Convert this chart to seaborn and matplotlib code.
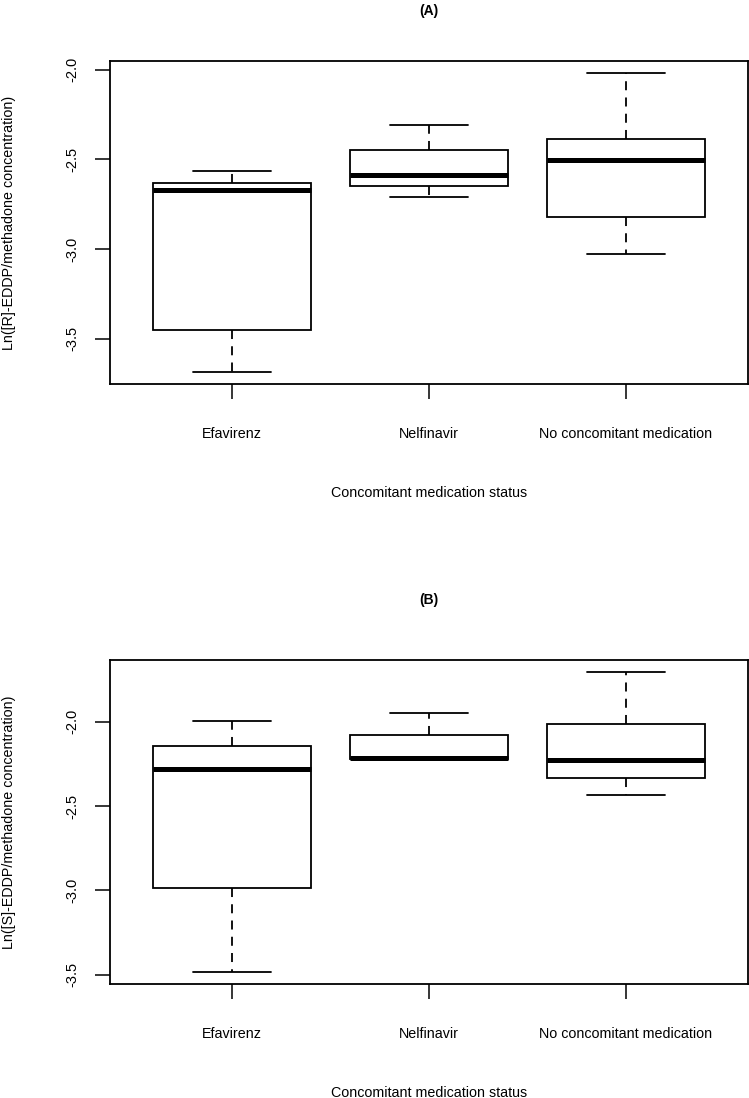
import pandas as pd
import numpy as np
import matplotlib
matplotlib.use("Agg")
import matplotlib.pyplot as plt
import seaborn as sns

# Grupos de medicación concomitante
groups = ["Efavirenz", "Nelfinavir", "No concomitant medication"]

# Resumen de cinco números: [mín, Q1, mediana, Q3, máx]
r_efavirenz = [-3.686, -3.454, -2.668, -2.630, -2.562]
r_nelfinavir = [-2.712, -2.649, -2.586, -2.445, -2.306]
r_none = [-3.029, -2.823, -2.503, -2.384, -2.017]

s_efavirenz = [-3.485, -2.985, -2.279, -2.144, -1.994]
s_nelfinavir = [-2.220, -2.220, -2.212, -2.080, -1.947]
s_none = [-2.433, -2.334, -2.226, -2.011, -1.704]

yticks = [-3.5, -3.0, -2.5, -2.0]


def long_table(values_by_group):
    rows = []
    for g, vals in zip(groups, values_by_group):
        for v in vals:
            rows.append({"group": g, "value": v})
    return pd.DataFrame(rows)


df_r = long_table([r_efavirenz, r_nelfinavir, r_none])
df_s = long_table([s_efavirenz, s_nelfinavir, s_none])

sns.set_style("ticks", {"axes.edgecolor": "black", "xtick.color": "black",
                        "ytick.color": "black", "text.color": "black",
                        "axes.labelcolor": "black"})
plt.rcParams["font.family"] = ["Liberation Sans", "DejaVu Sans"]
plt.rcParams["axes.unicode_minus"] = False

fig = plt.figure(figsize=(7.49, 10.98), dpi=100)
ax_a = fig.add_axes([0.1469, 0.6503, 0.8518, 0.2942])
ax_b = fig.add_axes([0.1469, 0.1038, 0.8518, 0.2951])

panels = [
    (ax_a, df_r, "(A)", "Ln([R]-EDDP/methadone concentration)", 33),
    (ax_b, df_s, "(B)", "Ln([S]-EDDP/methadone concentration)", 40),
]

for ax, df, title, ylabel, tpad in panels:
    sns.boxplot(data=df, x="group", y="value", ax=ax, order=groups,
                color="white", linecolor="black", linewidth=1.3, width=0.8,
                whis=1.5, fliersize=0,
                medianprops={"linewidth": 3.6, "solid_capstyle": "butt"},
                whiskerprops={"linestyle": (0, (5, 4))})

    # Límites como en R: rango de los datos + 4 %
    lo, hi = df["value"].min(), df["value"].max()
    pad = 0.04 * (hi - lo)
    ax.set_ylim(lo - pad, hi + pad)
    ax.set_xlim(-0.62, 2.62)
    ax.set_yticks(yticks)
    ax.set_yticklabels([f"{t:.1f}" for t in yticks])

    ax.tick_params(axis="y", length=10.8, width=1.1, pad=11, labelsize=10.5,
                   labelrotation=90)
    ax.tick_params(axis="x", length=10.8, width=1.1, pad=20, labelsize=10.3)
    for lab in ax.get_yticklabels():
        lab.set_va("center")

    for sp in ax.spines.values():
        sp.set_visible(True)
        sp.set_linewidth(1.3)
        sp.set_color("black")

    ax.set_title(title, fontsize=10, fontweight="bold", pad=tpad)
    ax.set_xlabel("Concomitant medication status", fontsize=10.3)
    ax.set_ylabel(ylabel, fontsize=10.3)
    ax.xaxis.set_label_coords(0.5, -0.316)
    ax.yaxis.set_label_coords(-0.147, 0.5)

plt.savefig("out.png", dpi=100)
